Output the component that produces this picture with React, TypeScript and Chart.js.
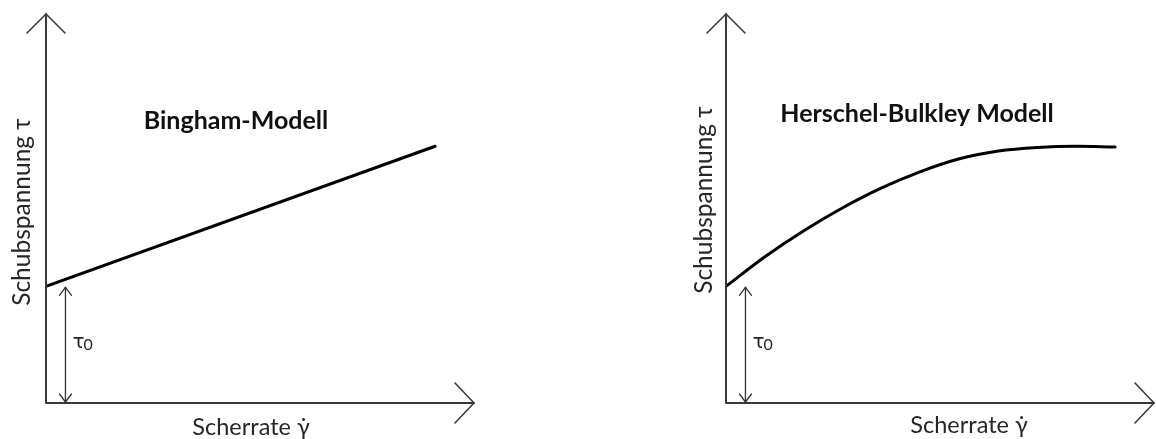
import React, { useEffect, useRef } from "react";
import { Chart, registerables } from "chart.js";

Chart.register(...registerables);

// Shear rate (x) and shear stress (y) in arbitrary units
const binghamRate = [0, 10];
const binghamStress = [3.0, 6.6];

const hbRate = [0, 1, 2, 3, 4, 5, 6, 7, 8, 9, 10];
const hbStress = [3.0, 3.76, 4.43, 5.02, 5.53, 5.95, 6.28, 6.48, 6.57, 6.6, 6.58];

// Yield stress and the shear rate where its marker arrow sits
const yieldStress = 3.0;
const yieldMarkerRate = 0.5;

const titles = ["Bingham-Modell", "Herschel-Bulkley Modell"];
const xAxisLabel = "Scherrate \u03B3\u0307";
const yAxisLabel = "Schubspannung \u03C4";
const yieldLabel = "\u03C4";
const yieldSub = "0";

const X_MAX = 11;
const Y_MAX = 10;
const AXIS_COLOR = "#3a3a3a";
const TEXT_COLOR = "#262626";
const LABEL_FONT = "Lato, 'Open Sans', sans-serif";

type PanelOpts = {
  title: string;
  titleDx: number;
  titleDy: number;
  xLabelDx: number;
  xLabelDy: number;
  yLabelDx: number;
  yLabelDy: number;
};

function openArrowHead(
  ctx: CanvasRenderingContext2D,
  tipX: number,
  tipY: number,
  dirX: number,
  dirY: number,
  len: number,
  half: number
) {
  const px = -dirY;
  const py = dirX;
  ctx.beginPath();
  ctx.moveTo(tipX - dirX * len + px * half, tipY - dirY * len + py * half);
  ctx.lineTo(tipX, tipY);
  ctx.lineTo(tipX - dirX * len - px * half, tipY - dirY * len - py * half);
  ctx.stroke();
}

const sketchPlugin = {
  id: "sketchAxes",
  afterDatasetsDraw(chart: any, _args: any, opts: PanelOpts) {
    const { ctx, chartArea, scales } = chart;
    const xs = scales.x;
    const ys = scales.y;
    const x0 = xs.getPixelForValue(0);
    const y0 = ys.getPixelForValue(0);
    const xEnd = xs.getPixelForValue(X_MAX);
    const yTop = ys.getPixelForValue(Y_MAX);

    ctx.save();
    ctx.lineCap = "round";
    ctx.lineJoin = "round";

    // Axes with open arrow heads
    ctx.strokeStyle = AXIS_COLOR;
    ctx.lineWidth = 2;
    ctx.beginPath();
    ctx.moveTo(x0, y0);
    ctx.lineTo(x0, yTop);
    ctx.moveTo(x0, y0);
    ctx.lineTo(xEnd, y0);
    ctx.stroke();
    ctx.lineWidth = 1.6;
    openArrowHead(ctx, x0, yTop, 0, -1, 19, 19);
    openArrowHead(ctx, xEnd, y0, 1, 0, 19, 20);

    // Yield stress double arrow
    const mx = xs.getPixelForValue(yieldMarkerRate);
    const my = ys.getPixelForValue(yieldStress);
    ctx.lineWidth = 1.3;
    ctx.strokeStyle = "#333";
    ctx.beginPath();
    ctx.moveTo(mx, y0 - 1);
    ctx.lineTo(mx, my + 1);
    ctx.stroke();
    openArrowHead(ctx, mx, my + 1, 0, -1, 8, 6);
    openArrowHead(ctx, mx, y0 - 1, 0, 1, 8, 6);

    // τ0 label
    const midY = (y0 + my) / 2 - 2;
    ctx.fillStyle = TEXT_COLOR;
    ctx.textBaseline = "alphabetic";
    ctx.textAlign = "left";
    ctx.font = "20px 'DejaVu Sans', sans-serif";
    ctx.fillText(yieldLabel, mx + 7, midY + 5);
    const tw = ctx.measureText(yieldLabel).width;
    ctx.font = `16px ${LABEL_FONT}`;
    ctx.fillText(yieldSub, mx + 7 + tw - 1, midY + 7);

    // Title
    ctx.font = `bold 25px ${LABEL_FONT}`;
    ctx.fillStyle = "#111";
    ctx.textAlign = "center";
    ctx.textBaseline = "middle";
    ctx.fillText(opts.title, chartArea.left + opts.titleDx, chartArea.top + opts.titleDy);

    // Axis labels
    ctx.fillStyle = TEXT_COLOR;
    ctx.font = `23.5px ${LABEL_FONT}`;
    ctx.fillText(xAxisLabel, x0 + opts.xLabelDx, y0 + opts.xLabelDy);

    ctx.font = `24.5px ${LABEL_FONT}`;
    ctx.translate(x0 + opts.yLabelDx, chartArea.top + opts.yLabelDy);
    ctx.rotate(-Math.PI / 2);
    ctx.fillText(yAxisLabel, 0, 0);

    ctx.restore();
  },
};

function Panel(props: {
  rate: number[];
  stress: number[];
  curved: boolean;
  padding: { left: number; right: number; top: number; bottom: number };
  opts: PanelOpts;
  left: number;
}) {
  const ref = useRef<HTMLCanvasElement | null>(null);

  useEffect(() => {
    if (!ref.current) return;
    const points = props.rate.map((x, i) => ({ x, y: props.stress[i] }));
    const chart = new Chart(ref.current, {
      type: "line",
      data: {
        datasets: [
          {
            data: points,
            borderColor: "#000",
            borderWidth: 3,
            pointRadius: 0,
            fill: false,
            cubicInterpolationMode: props.curved ? "monotone" : "default",
            tension: props.curved ? 0.4 : 0,
            borderCapStyle: "round",
          },
        ],
      },
      options: {
        responsive: false,
        animation: false,
        layout: { padding: props.padding },
        scales: {
          x: { type: "linear", min: 0, max: X_MAX, display: false },
          y: { type: "linear", min: 0, max: Y_MAX, display: false },
        },
        plugins: {
          legend: { display: false },
          tooltip: { enabled: false },
          sketchAxes: props.opts,
        } as any,
      },
      plugins: [sketchPlugin],
    });
    return () => chart.destroy();
  }, []);

  return (
    <canvas
      ref={ref}
      width={578}
      height={439}
      style={{ position: "absolute", left: props.left, top: 0, width: 578, height: 439 }}
    />
  );
}

export default function App() {
  return (
    <div
      style={{
        position: "absolute",
        left: 0,
        top: 0,
        width: 1156,
        height: 439,
        background: "#fff",
        overflow: "hidden",
      }}
    >
      <Panel
        rate={binghamRate}
        stress={binghamStress}
        curved={false}
        left={0}
        padding={{ left: 46, right: 104, top: 14, bottom: 36 }}
        opts={{
          title: titles[0],
          titleDx: 190,
          titleDy: 107,
          xLabelDx: 205,
          xLabelDy: 24,
          yLabelDx: -24,
          yLabelDy: 198,
        }}
      />
      <Panel
        rate={hbRate}
        stress={hbStress}
        curved={true}
        left={578}
        padding={{ left: 148, right: 2, top: 14, bottom: 36 }}
        opts={{
          title: titles[1],
          titleDx: 191,
          titleDy: 100,
          xLabelDx: 243,
          xLabelDy: 22,
          yLabelDx: -22,
          yLabelDy: 186,
        }}
      />
    </div>
  );
}
